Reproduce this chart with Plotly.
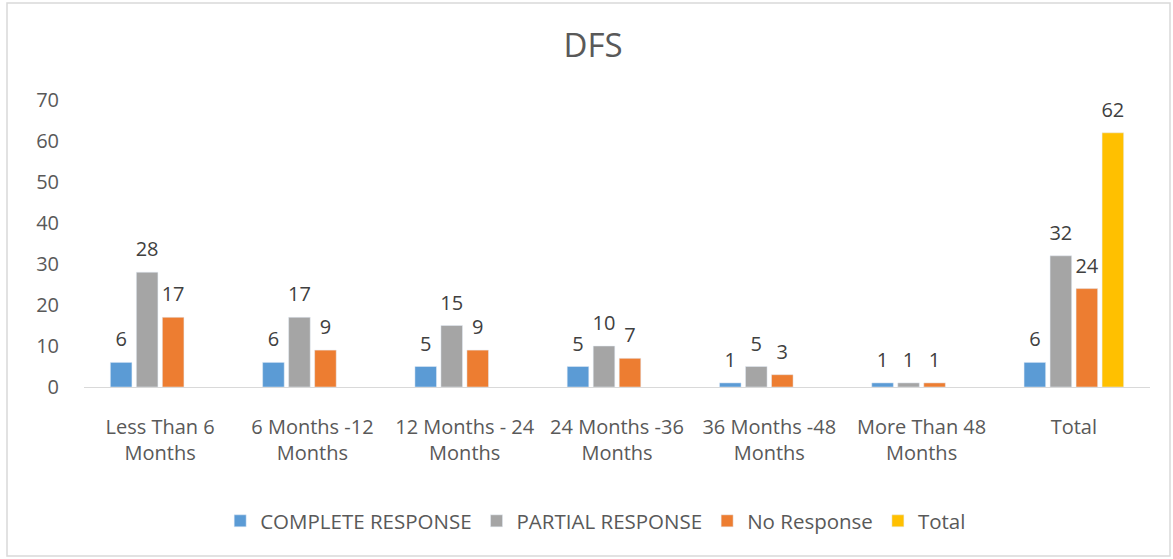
import plotly.graph_objects as go

categories = ["Less Than 6<br>Months", "6 Months -12<br>Months", "12 Months - 24<br>Months",
              "24 Months -36<br>Months", "36 Months -48<br>Months", "More Than 48<br>Months", "Total"]
complete_response = [6, 6, 5, 5, 1, 1, 6]
partial_response = [28, 17, 15, 10, 5, 1, 32]
no_response = [17, 9, 9, 7, 3, 1, 24]
total = [None, None, None, None, None, None, 62]
y_ticks = [0, 10, 20, 30, 40, 50, 60, 70]

series = [
    ("COMPLETE RESPONSE", complete_response, "#5B9BD5"),
    ("PARTIAL RESPONSE", partial_response, "#A5A5A5"),
    ("No Response", no_response, "#ED7D31"),
    ("Total", total, "#FFC000"),
]

FONT = "Open Sans, DejaVu Sans, sans-serif"
FS = 20
GAP = 0.317
fig = go.Figure()
for i, (name, vals, color) in enumerate(series):
    fig.add_trace(go.Bar(
        name=name, x=categories, y=vals, marker_color=color,
        offsetgroup=str(i), alignmentgroup="a",
    ))
for i, (name, vals, color) in enumerate(series):
    fig.add_trace(go.Scatter(
        x=categories, y=vals, mode="markers+text",
        text=[("" if v is None else str(v)) for v in vals],
        textposition="top center",
        textfont=dict(family=FONT, size=FS, color="#404040"),
        marker=dict(size=16, opacity=0),
        offsetgroup=str(i), alignmentgroup="a",
        cliponaxis=False,
        showlegend=False, hoverinfo="skip",
    ))

fig.update_layout(
    width=1173, height=559,
    margin=dict(l=84, r=23, t=100, b=172),
    paper_bgcolor="white", plot_bgcolor="white",
    barmode="group", bargap=GAP, bargroupgap=0.17,
    scattermode="group", scattergap=GAP,
    font=dict(family=FONT, size=FS, color="#595959"),
    title=dict(text="DFS", x=593 / 1173, xanchor="center", xref="container",
               y=1 - 45 / 559, yanchor="middle", yref="container",
               font=dict(family=FONT, size=33, color="#595959")),
    showlegend=True,
    legend=dict(orientation="h", x=0.48, xanchor="center", y=-(521 - 387) / 287, yanchor="middle",
                font=dict(family=FONT, size=20.5, color="#595959"), traceorder="normal"),
    xaxis=dict(showline=True, linecolor="#D9D9D9", linewidth=1, showgrid=False,
               ticks="outside", ticklen=22, tickcolor="rgba(0,0,0,0)",
               tickfont=dict(family=FONT, size=FS, color="#595959")),
    yaxis=dict(range=[0, 70], tickvals=y_ticks, showgrid=False, showline=False, zeroline=False,
               ticks="outside", ticklen=20, tickcolor="rgba(0,0,0,0)",
               tickfont=dict(family=FONT, size=FS, color="#595959")),
    shapes=[dict(type="rect", xref="paper", yref="paper",
                 x0=(7 - 84) / 1066, x1=(1170 - 84) / 1066,
                 y0=(387 - 556) / 287, y1=(387 - 3) / 287,
                 line=dict(color="#D9D9D9", width=1.5), fillcolor="rgba(0,0,0,0)", layer="below")],
)

fig.write_html("out.html", config={"displayModeBar": False},
               post_script="document.body.style.margin='0';")
